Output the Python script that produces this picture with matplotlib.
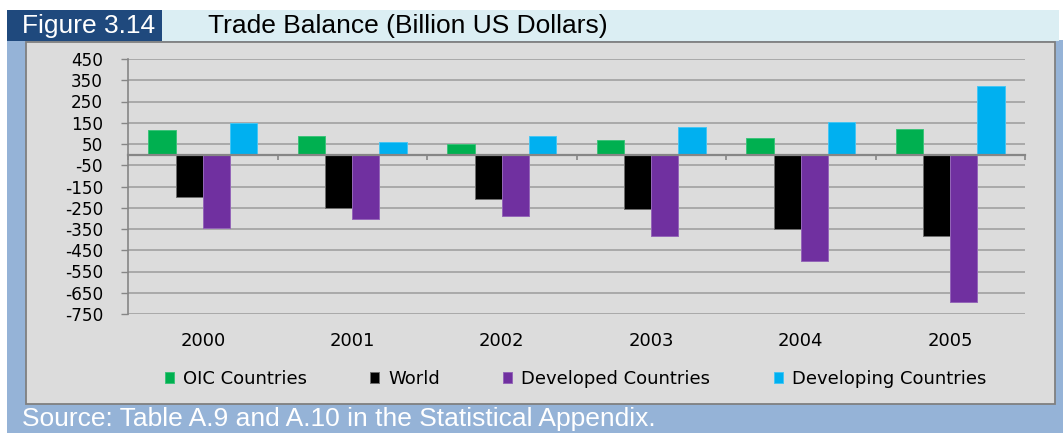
import matplotlib
matplotlib.use("Agg")
import matplotlib.pyplot as plt
import matplotlib.transforms as mtransforms
from matplotlib.patches import Rectangle
import numpy as np

# trade balance, billion US dollars
years = ["2000", "2001", "2002", "2003", "2004", "2005"]
oic = [115, 87, 48, 70, 76, 122]
world = [-201, -249, -208, -258, -351, -382]
developed = [-343, -304, -291, -382, -502, -694]
developing = [150, 59, 87, 128, 155, 322]

series = [
    ("OIC Countries", oic, "#00B050", "#3DC27A"),
    ("World", world, "#000000", "#6E6E6E"),
    ("Developed Countries", developed, "#7030A0", "#9466B8"),
    ("Developing Countries", developing, "#00B0F0", "#45C6F4"),
]
yticks = list(range(-750, 451, 100))

W, H = 1063, 433
fig = plt.figure(figsize=(W / 100, H / 100), dpi=100)
fig.patch.set_facecolor("white")


def px_rect(x0, y0, x1, y1, **kw):
    # rectangle given in pixel coords from the top-left corner
    r = Rectangle((x0 / W, 1 - y1 / H), (x1 - x0) / W, (y1 - y0) / H,
                  transform=fig.transFigure, **kw)
    fig.patches.append(r)
    return r


px_rect(7, 40, W, H, facecolor="#95B3D7", edgecolor="none", zorder=-10)
px_rect(7, 10, 162, 41, facecolor="#1F497D", edgecolor="none", zorder=-9)
px_rect(162, 10, 1059, 41, facecolor="#DBEEF3", edgecolor="none", zorder=-9)
px_rect(26, 42, 1055, 404, facecolor="#DCDCDC", edgecolor="#7F7F7F",
        linewidth=1.3, zorder=-8)

fig.text(22 / W, 1 - 26 / H, "Figure 3.14", color="white", fontsize=19,
         family="Liberation Sans", va="center", ha="left")
fig.text(208 / W, 1 - 26 / H, "Trade Balance (Billion US Dollars)",
         color="black", fontsize=19, family="Liberation Sans",
         va="center", ha="left")
fig.text(22 / W, 1 - 407 / H,
         "Source: Table A.9 and A.10 in the Statistical Appendix.",
         color="white", fontsize=19, family="Liberation Sans",
         va="top", ha="left")

ax = fig.add_axes([128 / W, 1 - 314 / H, (1025 - 128) / W, (314 - 59) / H])
ax.set_facecolor("none")

x = np.arange(len(years))
bw = 1 / 5.5
offsets = [-1.5, -0.5, 0.5, 1.5]
for (name, vals, col, edge), off in zip(series, offsets):
    ax.bar(x + off * bw, vals, width=bw, color=col, edgecolor=edge,
           linewidth=0.7, label=name, zorder=3)

ax.set_xlim(-0.5, len(years) - 0.5)
ax.set_ylim(-750, 450)
ax.set_yticks(yticks)
ax.set_yticklabels([str(v) for v in yticks], fontsize=12.2,
                   family="DejaVu Sans")
ax.yaxis.grid(True, color="#A0A0A0", linewidth=1.2, zorder=1)
ax.set_axisbelow(True)
ax.tick_params(axis="y", direction="out", length=5, width=1,
               color="#868686", pad=13)

for s in ["top", "right"]:
    ax.spines[s].set_visible(False)
ax.spines["left"].set_color("#868686")
ax.spines["left"].set_linewidth(1.2)
ax.spines["bottom"].set_position(("data", 0))
ax.spines["bottom"].set_color("#868686")
ax.spines["bottom"].set_linewidth(1.6)
ax.spines["bottom"].set_zorder(4)

# category boundaries as small ticks on the zero line
ax.set_xticks(np.arange(-0.5, len(years), 1.0))
ax.set_xticklabels([])
ax.tick_params(axis="x", direction="out", length=3.5, width=1.2,
               color="#868686")

trans = mtransforms.blended_transform_factory(ax.transData, ax.transAxes)
for xi, yr in zip(x, years):
    ax.text(xi, -0.105, yr, transform=trans, ha="center", va="center",
            fontsize=13, family="DejaVu Sans")

fig.legend(loc="center", bbox_to_anchor=(575.5 / W, 1 - 379 / H), ncol=4,
           frameon=False, prop={"family": "DejaVu Sans", "size": 13},
           handlelength=0.5, handleheight=0.5, handletextpad=0.5,
           columnspacing=3.5)

fig.savefig("out.png", dpi=100)
